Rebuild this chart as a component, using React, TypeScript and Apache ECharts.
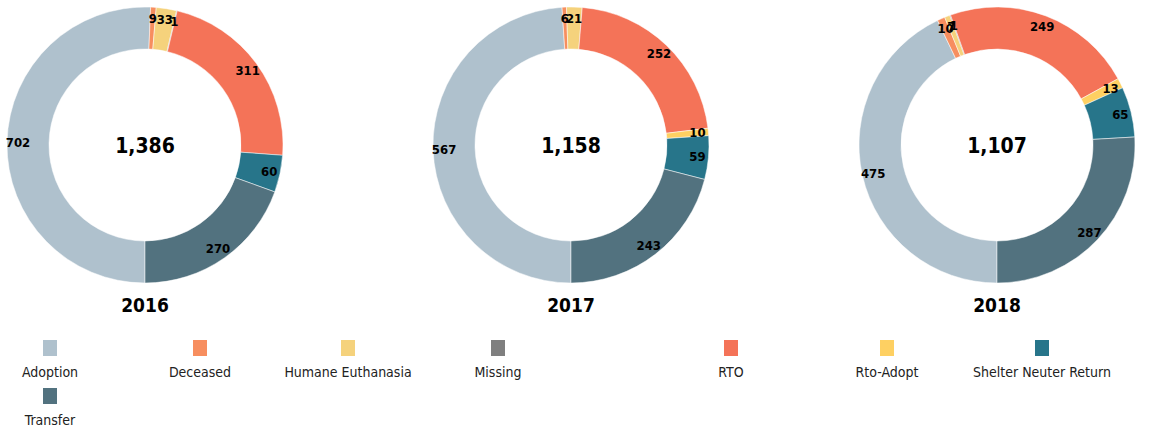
import React, { useEffect, useRef } from "react";
import * as echarts from "echarts";

const categories = [
  "Adoption",
  "Deceased",
  "Humane Euthanasia",
  "Missing",
  "RTO",
  "Rto-Adopt",
  "Shelter Neuter Return",
  "Transfer",
];
const colors = [
  "#afc1cd",
  "#f78e5f",
  "#f5d27c",
  "#7f7f7f",
  "#f47358",
  "#fed062",
  "#27758a",
  "#52727f",
];
const years = ["2016", "2017", "2018"];
const values2016 = [702, 9, 33, 1, 311, 0, 60, 270];
const values2017 = [567, 6, 21, 0, 252, 10, 59, 243];
const values2018 = [475, 10, 7, 1, 249, 13, 65, 287];
const yearValues = [values2016, values2017, values2018];

const pieCentersX = [145, 571, 997];
const pieCenterY = 145;
const legendCentersX = [49, 199, 347, 497, 730, 886, 1041, 49];
const legendTops = [340, 340, 340, 340, 340, 340, 340, 388];

const NUM_FONT = "'DejaVu Sans Condensed', 'DejaVu Sans', sans-serif";

export default function App() {
  const ref = useRef<HTMLDivElement>(null);
  useEffect(() => {
    if (!ref.current) return;
    const chart = echarts.init(ref.current, undefined, { renderer: "svg" });

    const series: any[] = [];
    const graphics: any[] = [];
    yearValues.forEach((vals, yi) => {
      const data = categories
        .map((name, i) => ({ name, value: vals[i], itemStyle: { color: colors[i] } }))
        .filter((d) => d.value > 0);
      series.push({
        type: "pie",
        name: years[yi],
        center: [pieCentersX[yi], pieCenterY],
        radius: [96, 138],
        startAngle: 270,
        clockwise: true,
        avoidLabelOverlap: false,
        label: { show: false },
        labelLine: { show: false },
        itemStyle: { borderColor: "#ffffff", borderWidth: 0.5 },
        emphasis: { disabled: true },
        data,
      });
      series.push({
        type: "pie",
        name: years[yi] + " labels",
        center: [pieCentersX[yi], pieCenterY],
        radius: [110, 138],
        startAngle: 270,
        clockwise: true,
        silent: true,
        avoidLabelOverlap: false,
        minShowLabelAngle: 0,
        labelLayout: { hideOverlap: false },
        itemStyle: { color: "rgba(0,0,0,0)" },
        label: {
          show: true,
          position: "inside",
          formatter: "{c}",
          color: "#000",
          fontWeight: "bold",
          fontSize: 13,
          fontFamily: NUM_FONT,
        },
        labelLine: { show: false },
        emphasis: { disabled: true },
        data: data.map((d) => ({ name: d.name, value: d.value })),
      });
      const total = vals.reduce((a, b) => a + b, 0);
      graphics.push({
        type: "text",
        x: pieCentersX[yi],
        y: pieCenterY + 1,
        style: {
          text: total.toLocaleString("en-US"),
          fontSize: 21,
          fontWeight: "bold",
          fontFamily: NUM_FONT,
          fill: "#000",
          align: "center",
          verticalAlign: "middle",
        },
      });
      graphics.push({
        type: "text",
        x: pieCentersX[yi],
        y: 305,
        style: {
          text: years[yi],
          fontSize: 19,
          fontWeight: "bold",
          fontFamily: NUM_FONT,
          fill: "#000",
          align: "center",
          verticalAlign: "middle",
        },
      });
    });

    const legends = categories.map((name, i) => ({
      data: [name],
      left: legendCentersX[i] - 90 - 5,
      top: legendTops[i],
      padding: 0,
      itemWidth: 0,
      itemHeight: 0,
      icon: "rect",
      selectedMode: false,
      formatter: (n: string) => `{ic${i}|}\n{t|${n}}`,
      textStyle: {
        rich: {
          [`ic${i}`]: { width: 14, height: 16, backgroundColor: colors[i], align: "center" },
          t: {
            width: 180,
            align: "center",
            fontSize: 14,
            lineHeight: 32,
            color: "#222",
            fontFamily: NUM_FONT,
          },
        },
      },
    }));

    chart.setOption({
      animation: false,
      legend: legends,
      series,
      graphic: graphics,
    });
    return () => chart.dispose();
  }, []);
  return (
    <div
      ref={ref}
      style={{ position: "fixed", left: 0, top: 0, width: 1172, height: 431, background: "#fff" }}
    />
  );
}
